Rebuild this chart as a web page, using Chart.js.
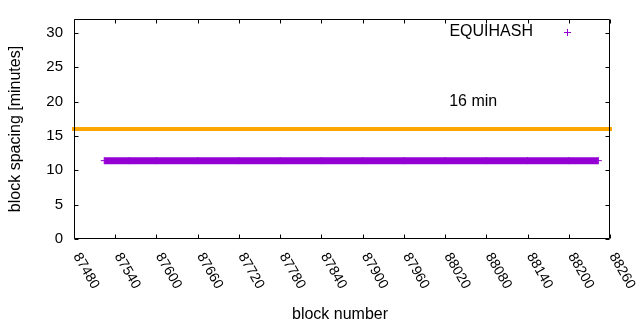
<!DOCTYPE html>
<html>
<head>
<meta charset="utf-8">
<script src="https://cdn.jsdelivr.net/npm/chart.js@4/dist/chart.umd.min.js"></script>
<style>
  html, body { margin: 0; padding: 0; background: #fff; }
</style>
</head>
<body>
<canvas id="chart" width="640" height="330"></canvas>
<script>
// data
const blocks = [87524, 87560, 87600, 87660, 87720, 87780, 87840, 87900, 87960, 88020, 88080, 88140, 88200, 88243];
const spacing = [11.4, 11.4, 11.4, 11.4, 11.4, 11.4, 11.4, 11.4, 11.4, 11.4, 11.4, 11.4, 11.4, 11.4];
const targetBlocks = [87480, 88260];
const targetSpacing = [16, 16];
const xTicks = [87480, 87540, 87600, 87660, 87720, 87780, 87840, 87900, 87960, 88020, 88080, 88140, 88200, 88260];
const yTicks = [0, 5, 10, 15, 20, 25, 30];
const seriesName = 'EQUIHASH';
const noteText = '16 min';
const notePos = [88026, 20];

const FONT = "'Liberation Sans', Arial, sans-serif";
const PURPLE = '#9400d3';
const ORANGE = '#ffa500';

// gnuplot-like frame, inward ticks, rotated labels, legend
const gnuFrame = {
    id: 'gnuFrame',
    afterDraw(chart) {
        const ctx = chart.ctx;
        const a = chart.chartArea;
        const xs = chart.scales.x, ys = chart.scales.y;
        const L = Math.round(a.left) + 0.5, R = Math.round(a.right) - 0.5;
        const T = Math.round(a.top) + 0.5, B = Math.round(a.bottom) - 0.5;
        const tl = 4;

        ctx.save();
        ctx.strokeStyle = '#000';
        ctx.lineWidth = 1;
        ctx.beginPath();
        ctx.rect(L, T, R - L, B - T);
        xTicks.forEach(v => {
            const px = Math.round(xs.getPixelForValue(v)) + 0.5;
            ctx.moveTo(px, B); ctx.lineTo(px, B - tl);
            ctx.moveTo(px, T); ctx.lineTo(px, T + tl);
        });
        yTicks.forEach(v => {
            const py = Math.round(ys.getPixelForValue(v)) + 0.5;
            ctx.moveTo(L, py); ctx.lineTo(L + tl, py);
            ctx.moveTo(R, py); ctx.lineTo(R - tl, py);
        });
        ctx.stroke();

        // rotated x labels
        ctx.fillStyle = '#000';
        ctx.font = '14px ' + FONT;
        ctx.textAlign = 'left';
        ctx.textBaseline = 'alphabetic';
        xTicks.forEach(v => {
            const px = xs.getPixelForValue(v);
            ctx.save();
            ctx.translate(px - 1, a.bottom + 17);
            ctx.rotate(Math.PI / 3);
            ctx.fillText(String(v), 0, 0);
            ctx.restore();
        });

        // axis titles
        ctx.font = '16px ' + FONT;
        ctx.textAlign = 'center';
        ctx.textBaseline = 'middle';
        ctx.fillText('block number', 340, 315);
        ctx.save();
        ctx.translate(16, (a.top + a.bottom) / 2);
        ctx.rotate(-Math.PI / 2);
        ctx.fillText('block spacing [minutes]', 0, 0);
        ctx.restore();

        // key
        ctx.textAlign = 'right';
        ctx.fillText(seriesName, 533, 32);
        ctx.strokeStyle = PURPLE;
        ctx.beginPath();
        ctx.moveTo(564, 32.5); ctx.lineTo(571, 32.5);
        ctx.moveTo(567.5, 29); ctx.lineTo(567.5, 36);
        ctx.stroke();

        // label
        ctx.fillStyle = '#000';
        ctx.textAlign = 'left';
        ctx.fillText(noteText, xs.getPixelForValue(notePos[0]), ys.getPixelForValue(notePos[1]));
        ctx.restore();
    }
};

new Chart(document.getElementById('chart'), {
    type: 'line',
    data: {
        datasets: [
            {
                label: '16 min',
                data: targetBlocks.map((b, i) => ({ x: b, y: targetSpacing[i] })),
                borderColor: ORANGE,
                borderWidth: 4,
                borderCapStyle: 'square',
                pointRadius: 0,
                clip: false
            },
            {
                label: seriesName,
                data: blocks.map((b, i) => ({ x: b, y: spacing[i] })),
                borderColor: PURPLE,
                borderWidth: 7,
                borderCapStyle: 'butt',
                pointStyle: 'cross',
                pointRadius: 3.5,
                pointBorderWidth: 1,
                pointBorderColor: PURPLE,
                pointBackgroundColor: PURPLE,
                clip: false
            }
        ]
    },
    options: {
        responsive: false,
        animation: false,
        devicePixelRatio: 1,
        layout: { padding: { top: 19, right: 30, left: 0, bottom: 0 } },
        plugins: { legend: { display: false }, tooltip: { enabled: false } },
        scales: {
            x: {
                type: 'linear',
                min: 87480,
                max: 88260,
                afterBuildTicks: s => { s.ticks = xTicks.map(v => ({ value: v })); },
                afterFit: s => { s.height = 91; },
                ticks: { display: false },
                grid: { display: false },
                border: { display: false }
            },
            y: {
                min: 0,
                max: 32,
                afterBuildTicks: s => { s.ticks = yTicks.map(v => ({ value: v })); },
                afterFit: s => { s.width = 74; },
                ticks: { color: '#000', padding: 3, font: { family: FONT, size: 15 } },
                grid: { display: false },
                border: { display: false }
            }
        }
    },
    plugins: [gnuFrame]
});
</script>
</body>
</html>
